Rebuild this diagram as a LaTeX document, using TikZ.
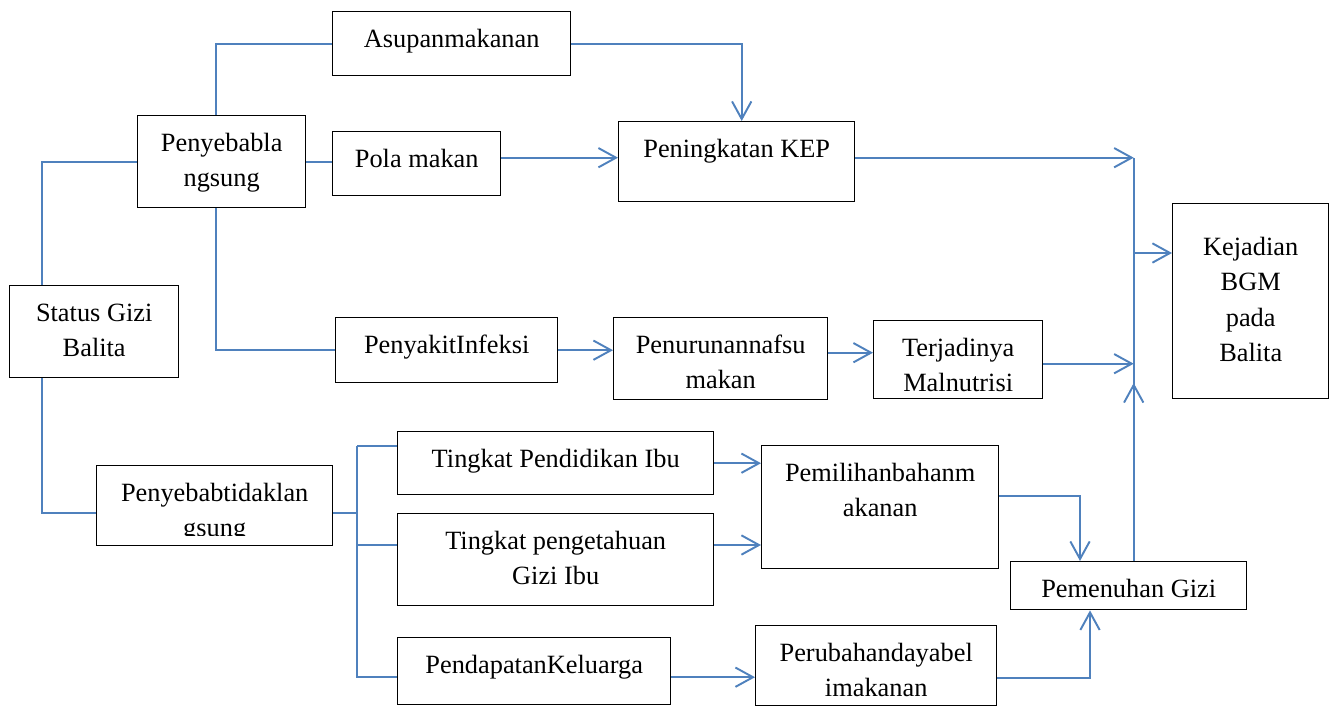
\documentclass[tikz,border=0pt]{standalone}
\usepackage{fontspec}
\setmainfont{Liberation Serif}
\usetikzlibrary{calc,arrows.meta}
\definecolor{garis}{RGB}{79,129,189}
\tikzset{
  kotak/.style={draw, line width=0.8pt, inner sep=0pt, anchor=north west},
  teks/.style={anchor=north, inner sep=0pt, align=center, font=\fontsize{15}{20.2}\selectfont},
  hubung/.style={draw=garis, line width=1.1pt},
  panah/.style={hubung, -{Straight Barb[length=10pt,width=11pt]}}
}
% [geser]{nama}{x,y kiri atas}{lebar}{tinggi}{teks}
\newcommand{\kotak}[6][0]{%
  \node[kotak, minimum width=#4*0.02cm, minimum height=#5*0.02cm] (#2) at (#3) {};
  \node[teks] (#2-t) at ($(#2.north)+(0,#1)$) {\rule{0pt}{20.5pt}#6};}

\begin{document}
\begin{tikzpicture}[x=0.02cm, y=-0.02cm]
		\useasboundingbox (0,0) rectangle (1334,706);
		
		%%%%% kotak %%%%%
		\kotak{status}{9,285}{169}{92}{Status Gizi\\Balita}
		\kotak{langsung}{137,115}{168}{92}{Penyebabla\\ngsung}
		\kotak{asupan}{332,11}{238}{64}{Asupanmakanan}
		\kotak{pola}{332,131}{168}{64}{Pola makan}
		\kotak{kep}{618,121}{236}{80}{Peningkatan KEP}
		\kotak{infeksi}{335,317}{222}{65}{PenyakitInfeksi}
		\kotak{nafsu}{613,317}{214}{82}{Penurunannafsu\\makan}
		\kotak[16]{bgm}{1172,203}{156}{195}{Kejadian\\BGM\\pada\\Balita}
		\kotak{pendidikan}{397,431}{316}{63}{Tingkat Pendidikan Ibu}
		\kotak{pengetahuan}{397,513}{316}{92}{Tingkat pengetahuan\\Gizi Ibu}
		\kotak{pendapatan}{397,637}{273}{67}{PendapatanKeluarga}
		\kotak{pemilihan}{761,445}{237}{123}{Pemilihanbahanm\\akanan}
		\kotak{pemenuhan}{1010,561}{236}{48}{Pemenuhan Gizi}
		\kotak{perubahan}{755,625}{241}{80}{Perubahandayabel\\imakanan}
		
		% teks yang terpotong
		\node[kotak, minimum width=169*0.02cm, minimum height=78*0.02cm] (malnutrisi) at (873,320) {};
		\begin{scope}
			\clip (malnutrisi.north west) rectangle ($(malnutrisi.south east)+(0,-3)$);
			\node[teks] (malnutrisi-t) at (malnutrisi.north) {\rule{0pt}{20.5pt}Terjadinya\\Malnutrisi};
		\end{scope}
		\node[kotak, minimum width=236*0.02cm, minimum height=80*0.02cm] (tidak) at (96,465) {};
		\begin{scope}
			\clip (tidak.north west) rectangle ($(tidak.south east)+(0,-11)$);
			\node[teks] (tidak-t) at (tidak.north) {\rule{0pt}{20.5pt}Penyebabtidaklan\\gsung};
		\end{scope}
		
		%%%%% penyebab langsung %%%%%
		\draw[hubung] ($(status.north west)+(33,0)$) |- (langsung.west);
		\draw[hubung] ($(langsung.north)+(-6,0)$) |- (asupan.west);
		\draw[hubung] (langsung.east) -- (langsung.east -| pola.west);
		\draw[hubung] ($(langsung.south)+(-6,0)$) |- (infeksi.west);
		\draw[panah] (asupan.east) -| ($(kep.north)+(5,0)$);
		\draw[panah] ($(pola.east)+(0,-6)$) -- ($(kep.west)+(0,-4)$);
		\draw[panah] (infeksi.east) -- (infeksi.east -| nafsu.west);
		\draw[panah] ($(nafsu.east)+(0,-6)$) -- ($(nafsu.east -| malnutrisi.west)+(0,-6)$);
		
		%%%%% penyebab tidak langsung %%%%%
		\draw[hubung] ($(status.south west)+(33,0)$) |- ($(tidak.west)+(0,7)$);
		\coordinate (cab) at ($(pendidikan.north west)+(-40,15)$);
		\coordinate (tp) at ($(pengetahuan.north west)+(0,32)$);
		\draw[hubung] ($(tidak.east)+(0,7)$) -- ($(tidak.east -| cab)+(0,7)$);
		\draw[hubung] (cab) -- ++(40,0);
		\draw[hubung] (cab |- tp) -- (tp);
		\draw[hubung] (cab) |- ($(pendapatan.north west)+(0,40)$);
		\draw[panah] (pendidikan.east) -- (pendidikan.east -| pemilihan.west);
		\draw[panah] ($(pengetahuan.north east)+(0,32)$) -- ($(pengetahuan.north east -| pemilihan.west)+(0,32)$);
		\draw[panah] ($(pendapatan.east)+(0,6)$) -- ($(pendapatan.east -| perubahan.west)+(0,6)$);
		\draw[panah] ($(pemilihan.east)+(0,-11)$) -| ($(pemenuhan.north west)+(70,0)$);
		\draw[panah] ($(perubahan.east)+(0,12)$) -| ($(pemenuhan.south west)+(80,0)$);
		
		%%%%% ke kejadian BGM %%%%%
		\coordinate (bus) at ($(pemenuhan.north)+(5,0)$);
		\coordinate (masuk) at ($(kep.east)+(0,-4)$);
		\coordinate (cabang) at ($(bgm.north west)+(0,50)$);
		\draw[hubung] (bus) -- (bus |- masuk);
		\draw[panah] (masuk) -- (masuk -| bus);
		\draw[panah] ($(malnutrisi.east)+(0,4)$) -- ($(malnutrisi.east -| bus)+(0,4)$);
		\draw[panah] (bus) -- ++(0,-178);
		\draw[panah] (bus |- cabang) -- (cabang);
		
\end{tikzpicture}
\end{document}
